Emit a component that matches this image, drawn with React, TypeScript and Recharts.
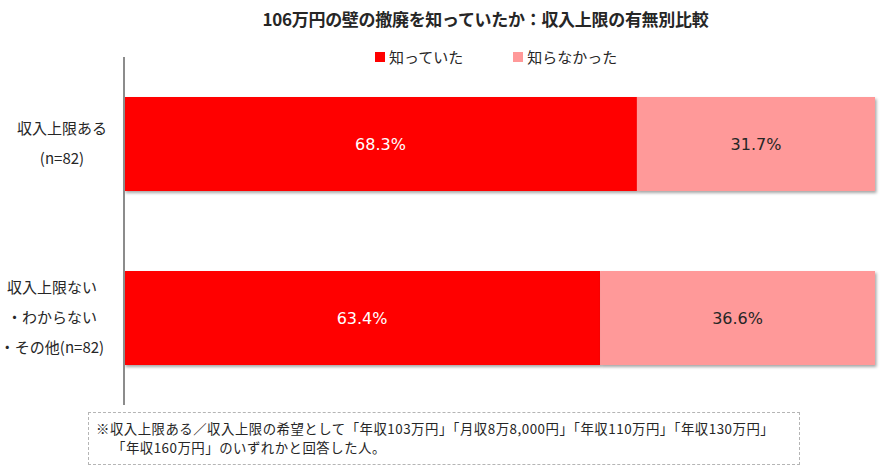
import React from "react";
import { BarChart, Bar, XAxis, YAxis, LabelList } from "recharts";

const TITLE = "106万円の壁の撤廃を知っていたか：収入上限の有無別比較";
const GROUPS = ["収入上限ある\n(n=82)", "収入上限ない\n・わからない\n・その他(n=82)"];
const SERIES = ["知っていた", "知らなかった"];
const KNEW = [68.3, 63.4];
const DIDNT_KNOW = [31.7, 36.6];
const NOTE = [
  "※収入上限ある／収入上限の希望として「年収103万円」「月収8万8,000円」「年収110万円」「年収130万円」",
  "「年収160万円」のいずれかと回答した人。",
];

const RED = "#ff0000";
const PINK = "#ff9999";
const INK = "#262626";
const JP = '"Noto Sans CJK JP", "Noto Sans", sans-serif';
const NUM = '"DejaVu Sans", Verdana, sans-serif';

const data = GROUPS.map((g, i) => ({ group: g, knew: KNEW[i], didnt: DIDNT_KNOW[i] }));

function GroupTick({ x, y, payload, index }: any) {
  const lines = String(payload.value).split("\n");
  const step = 30;
  const start = y - ((lines.length - 1) * step) / 2;
  const cx = index === 0 ? x - 54 : x - 64;
  return (
    <g>
      {lines.map((line, i) => (
        <text
          key={i}
          x={cx}
          y={start + i * step}
          dy="0.35em"
          textAnchor="middle"
          fontFamily={JP}
          fontSize={15}
          fill={INK}
        >
          {line}
        </text>
      ))}
    </g>
  );
}

function TopLegend() {
  const colors = [RED, PINK];
  return (
    <div
      style={{
        position: "absolute",
        top: 46,
        left: 375,
        display: "flex",
        gap: 50,
        fontFamily: JP,
        fontSize: 15,
        color: INK,
      }}
    >
      {SERIES.map((s, i) => (
        <span key={s} style={{ display: "flex", alignItems: "center" }}>
          <span style={{ width: 10, height: 10, background: colors[i], marginRight: 4, display: "inline-block" }} />
          {s}
        </span>
      ))}
    </div>
  );
}

export default function App() {
  return (
    <div style={{ position: "absolute", left: 0, top: 0, width: 883, height: 469, background: "#fff" }}>
      <div
        style={{
          position: "absolute",
          top: 6,
          left: 0,
          width: 883,
          paddingLeft: 88,
          boxSizing: "border-box",
          textAlign: "center",
          fontFamily: JP,
          fontWeight: 700,
          fontSize: 17,
          color: INK,
          letterSpacing: -0.3,
        }}
      >
        {TITLE}
      </div>
      <BarChart
        width={883}
        height={469}
        data={data}
        layout="vertical"
        margin={{ top: 57, right: 8, bottom: 64, left: 0 }}
        barSize={94}
      >
        <defs>
          <filter id="barShadow" x="-5%" y="-20%" width="110%" height="150%">
            <feDropShadow dx="1.5" dy="2" stdDeviation="1.5" floodColor="#000" floodOpacity="0.35" />
          </filter>
        </defs>
        <XAxis type="number" domain={[0, 100]} hide />
        <YAxis
          type="category"
          dataKey="group"
          width={124}
          axisLine={{ stroke: "#8c8c8c", strokeWidth: 2 }}
          tickLine={false}
          tick={<GroupTick />}
        />
        <Bar dataKey="knew" name={SERIES[0]} stackId="a" fill={RED} isAnimationActive={false} style={{ filter: "url(#barShadow)" }}>
          <LabelList
            dataKey="knew"
            position="center"
            formatter={(v: any) => `${v}%`}
            fill="#ffffff"
            fontSize={16}
            fontFamily={NUM}
          />
        </Bar>
        <Bar dataKey="didnt" name={SERIES[1]} stackId="a" fill={PINK} isAnimationActive={false} style={{ filter: "url(#barShadow)" }}>
          <LabelList
            dataKey="didnt"
            position="center"
            formatter={(v: any) => `${v}%`}
            fill={INK}
            fontSize={16}
            fontFamily={NUM}
          />
        </Bar>
      </BarChart>
      <TopLegend />
      <div
        style={{
          position: "absolute",
          left: 88,
          top: 412,
          width: 712,
          height: 53,
          boxSizing: "border-box",
          border: "1px dashed #b5b5b5",
          padding: "6px 0 0 7px",
          fontFamily: JP,
          fontSize: 13.4,
          lineHeight: "19px",
          color: INK,
          letterSpacing: 0.5,
        }}
      >
        <div>{NOTE[0]}</div>
        <div style={{ paddingLeft: 16 }}>{NOTE[1]}</div>
      </div>
    </div>
  );
}
